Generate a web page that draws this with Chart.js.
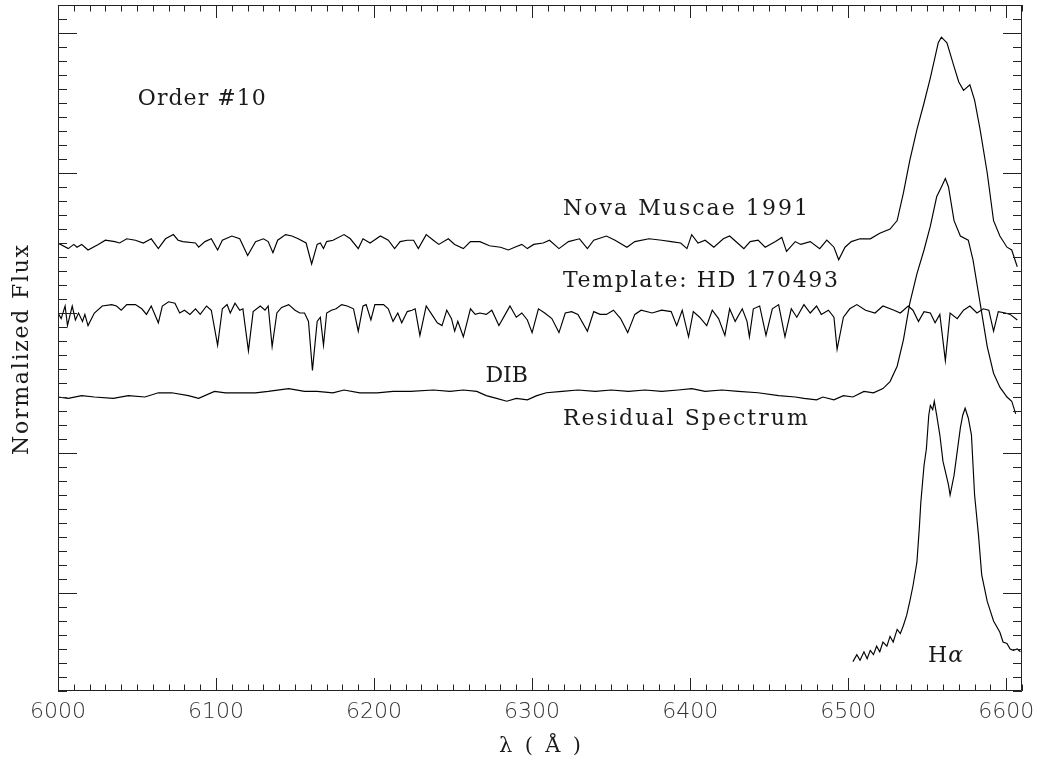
<!DOCTYPE html>
<html>
<head>
<meta charset="utf-8">
<script src="https://cdn.jsdelivr.net/npm/chart.js@4.4.1/dist/chart.umd.min.js"></script>
<style>
  html, body { margin: 0; padding: 0; background: #ffffff; }
  canvas { display: block; }
</style>
</head>
<body>
<canvas id="c" width="1044" height="767"></canvas>
<script>
// ---- Data: [wavelength (Å), normalized flux (offset)] ----
const novaSpectrum = [
  [6000,2.50],[6006.5,2.46],[6010,2.49],[6012,2.47],[6015,2.49],[6017,2.47],[6019,2.45],[6025.5,2.49],
  [6030,2.52],[6036,2.51],[6039,2.50],[6043.5,2.53],[6049,2.52],[6054,2.50],[6059,2.53],[6063.5,2.46],
  [6068,2.53],[6073,2.56],[6076,2.52],[6079,2.51],[6087,2.50],[6089,2.47],[6093,2.51],[6097,2.53],
  [6101,2.45],[6104,2.52],[6110,2.55],[6115,2.53],[6120,2.41],[6125,2.51],[6130,2.53],[6133,2.51],
  [6136,2.43],[6139,2.52],[6144,2.56],[6148,2.55],[6152,2.53],[6157,2.50],[6160.5,2.35],[6164,2.49],
  [6166,2.50],[6168,2.46],[6170,2.51],[6174,2.52],[6181,2.56],[6185,2.53],[6190,2.46],[6193,2.53],
  [6197.5,2.50],[6204,2.55],[6209,2.52],[6213,2.46],[6216.5,2.51],[6221,2.52],[6225,2.52],[6228,2.46],
  [6233,2.56],[6237.5,2.52],[6241,2.49],[6247,2.53],[6251,2.49],[6256.5,2.46],[6261,2.51],[6267,2.51],
  [6273,2.48],[6280,2.47],[6285,2.45],[6289,2.47],[6293.5,2.49],[6297,2.46],[6301,2.49],[6307,2.50],
  [6311,2.52],[6317,2.46],[6323,2.51],[6330,2.53],[6335,2.46],[6339,2.52],[6347,2.55],[6352.5,2.52],
  [6360,2.47],[6365,2.51],[6374,2.53],[6382,2.52],[6388,2.51],[6394,2.50],[6398,2.46],[6401,2.56],
  [6405,2.50],[6409.5,2.52],[6415,2.47],[6421,2.53],[6425,2.55],[6430,2.50],[6434,2.46],[6438,2.51],
  [6443,2.52],[6447.5,2.47],[6454,2.51],[6458,2.54],[6461,2.44],[6466.5,2.51],[6470,2.49],[6476,2.51],
  [6482,2.46],[6486.5,2.52],[6491,2.47],[6494,2.38],[6498,2.47],[6502,2.51],[6507.5,2.53],[6514,2.53],
  [6520,2.57],[6526.5,2.60],[6531,2.66],[6535,2.86],[6539,3.09],[6543.5,3.31],[6548,3.50],[6552,3.68],
  [6555,3.83],[6557,3.93],[6559,3.97],[6562.5,3.93],[6567,3.76],[6570,3.65],[6573,3.59],[6577,3.63],
  [6580,3.52],[6583.5,3.31],[6588,3.00],[6592,2.66],[6596,2.55],[6600.5,2.47],[6603.5,2.45],[6607,2.33]
];

const templateSpectrum = [
  [6000,2.00],[6002,1.96],[6004.5,2.05],[6006,1.91],[6009,2.05],[6011,1.95],[6013,2.00],[6015.5,1.94],
  [6017,1.99],[6019,1.91],[6023,2.00],[6028,2.05],[6034,2.06],[6037,2.05],[6040,2.02],[6043.5,2.06],
  [6049,2.06],[6053,2.03],[6056,1.99],[6059,2.05],[6063.5,1.93],[6066,2.05],[6070,2.08],[6074,2.07],
  [6077,2.00],[6080,2.02],[6083.5,1.99],[6087,2.03],[6090,1.99],[6094,2.05],[6097,2.02],[6101,1.77],
  [6104,2.03],[6107,2.06],[6109,2.00],[6112,2.07],[6115,2.02],[6117,2.03],[6120.5,1.73],[6123.5,2.01],
  [6128,2.05],[6131,2.02],[6133,2.05],[6135.5,1.76],[6138.5,2.00],[6141.5,2.04],[6146,2.06],[6150,2.02],
  [6153,2.00],[6156,2.00],[6158.5,1.94],[6161,1.59],[6164,1.94],[6166,1.97],[6168,1.77],[6170,2.00],
  [6173,2.02],[6176,2.03],[6179.5,2.06],[6183,2.05],[6187,2.03],[6190,1.87],[6193,2.05],[6195,2.06],
  [6198,1.95],[6200.5,2.06],[6206,2.06],[6209,2.03],[6212,1.94],[6215,2.00],[6217.5,1.93],[6221,2.01],
  [6224,2.02],[6226,2.03],[6229,1.84],[6233,2.05],[6236.5,1.99],[6240,1.93],[6243,1.91],[6246,2.02],
  [6249,1.96],[6251,1.87],[6253,1.94],[6256.5,1.83],[6261,2.03],[6264,1.99],[6267,2.00],[6271,1.99],
  [6274.5,2.02],[6279,1.91],[6283,1.99],[6286,2.05],[6290,1.97],[6293.5,2.00],[6297,1.95],[6300,1.86],
  [6304,2.03],[6308,2.00],[6312.5,1.96],[6317,1.86],[6321,2.00],[6325,2.01],[6329,1.99],[6335,1.87],
  [6339,2.01],[6343,1.99],[6347,1.99],[6351.5,2.02],[6356,1.96],[6360.5,1.86],[6365,1.99],[6369,2.02],
  [6376,2.00],[6382,2.02],[6388,2.01],[6391.5,1.91],[6395,2.02],[6399,1.83],[6402,2.01],[6406,1.97],
  [6410.5,1.91],[6414,2.02],[6418,1.96],[6422,1.84],[6425,2.03],[6428.5,1.94],[6433,2.03],[6436,1.94],
  [6437.5,1.83],[6440,2.03],[6444,2.05],[6448,1.84],[6452,2.03],[6456,2.06],[6460,1.83],[6464,2.03],
  [6467.5,1.97],[6472,2.06],[6476,2.00],[6480,2.05],[6483,1.99],[6487.5,2.02],[6491,1.97],[6493,1.74],
  [6497,1.97],[6501,2.03],[6505.5,2.06],[6511,2.02],[6517,2.00],[6522,2.05],[6529,2.02],[6533,2.00],
  [6538,2.05],[6541,2.02],[6544.5,1.94],[6548,2.01],[6552,2.00],[6555,1.93],[6558,1.99],[6561.5,1.66],
  [6564.5,2.00],[6569,1.96],[6573,2.02],[6577,2.05],[6581.5,2.00],[6585.5,2.03],[6589,2.02],[6592,1.87],
  [6595,2.01],[6599.5,2.00],[6602.5,1.99],[6607,1.95]
];

const residualSpectrum = [
  [6000,1.40],[6006.5,1.39],[6015,1.41],[6023,1.40],[6035,1.39],[6044.5,1.41],[6055,1.40],[6063.5,1.43],
  [6072,1.43],[6082.5,1.41],[6089,1.39],[6099,1.44],[6106,1.43],[6114,1.43],[6125,1.43],[6133,1.44],
  [6146,1.46],[6156,1.44],[6164,1.44],[6174,1.43],[6181,1.45],[6191,1.43],[6202,1.43],[6212,1.44],
  [6223,1.44],[6237.5,1.45],[6248,1.44],[6256.5,1.45],[6265,1.44],[6271,1.41],[6277.5,1.39],[6284,1.37],
  [6290,1.39],[6297,1.38],[6303,1.41],[6309,1.43],[6319,1.44],[6329,1.45],[6340,1.44],[6350,1.45],
  [6361,1.44],[6371.5,1.45],[6382,1.44],[6392.5,1.45],[6401,1.46],[6409.5,1.44],[6420,1.45],[6430.5,1.44],
  [6443,1.43],[6456,1.41],[6466.5,1.40],[6472,1.39],[6480,1.38],[6484,1.40],[6491,1.38],[6497,1.41],
  [6503,1.40],[6510,1.44],[6516,1.43],[6522,1.46],[6526.5,1.51],[6531,1.62],[6535,1.81],[6539,2.07],
  [6543.5,2.28],[6548,2.45],[6552,2.62],[6556,2.83],[6559,2.90],[6561.5,2.96],[6563.5,2.90],[6567,2.66],
  [6571,2.55],[6576,2.52],[6579,2.38],[6583.5,2.07],[6588,1.76],[6592,1.57],[6596,1.47],[6600.5,1.40],
  [6603.5,1.37],[6606,1.28]
];

const halphaProfile = [
  [6503,-0.49],[6505.5,-0.44],[6507.5,-0.48],[6510,-0.42],[6512,-0.47],[6514,-0.41],[6516,-0.44],[6518,-0.38],
  [6520,-0.42],[6522,-0.35],[6524.5,-0.38],[6526.5,-0.31],[6528.5,-0.35],[6531,-0.26],[6533,-0.29],[6535,-0.23],
  [6537,-0.16],[6539,-0.06],[6541,0.05],[6543.5,0.22],[6545,0.46],[6546,0.65],[6548,0.91],[6549.5,1.03],
  [6551,1.27],[6552,1.34],[6553.5,1.31],[6554.5,1.37],[6556,1.27],[6558,1.13],[6560,0.94],[6562.5,0.82],
  [6563.5,0.77],[6564.5,0.70],[6567,0.84],[6569,1.01],[6571,1.18],[6572.5,1.27],[6574,1.32],[6576,1.25],
  [6578,1.13],[6580,0.70],[6582.5,0.41],[6584.5,0.13],[6588,-0.06],[6592,-0.20],[6596,-0.28],[6598,-0.35],
  [6600.5,-0.36],[6602.5,-0.40],[6604.5,-0.41],[6607,-0.40],[6609,-0.42]
];

const xTickLabels = [6000, 6100, 6200, 6300, 6400, 6500, 6600];

const textLabels = [
  { text: 'Order #10', wl: 6050.5, flux: 3.53 },
  { text: 'Nova Muscae 1991', wl: 6319.5, flux: 2.74 },
  { text: 'Template: HD 170493', wl: 6319.5, flux: 2.23 },
  { text: 'DIB', wl: 6270.5, flux: 1.55 },
  { text: 'Residual Spectrum', wl: 6319.5, flux: 1.24 }
];
const halphaLabel = { h: 'H', greek: 'α', wl: 6550.5, flux: -0.45 };
const xTitle = 'λ ( Å )';
const yTitle = 'Normalized Flux';

// ---- Styling (rendered widths of the label strings in the reference) ----
const LABEL_FAMILY = '"DejaVu Serif"';
const labelWidths = {
  'Order #10': 128, 'Nova Muscae 1991': 245, 'Template: HD 170493': 275,
  'Residual Spectrum': 245, 'Normalized Flux': 210, 'λ ( Å )': 82
};

function drawFitted(ctx, text, x, y, size, align) {
  ctx.font = size + 'px ' + LABEL_FAMILY;
  ctx.letterSpacing = '0px';
  const w0 = ctx.measureText(text).width;
  const target = labelWidths[text];
  let ls = 0;
  if (target && text.length > 1) ls = (target - w0) / (text.length - 1);
  ctx.letterSpacing = ls.toFixed(2) + 'px';
  let sx = x;
  if (align === 'center') sx = x - (target || w0) / 2;
  ctx.textAlign = 'left';
  ctx.fillText(text, sx, y);
  ctx.letterSpacing = '0px';
}

const toXY = arr => arr.map(p => ({ x: p[0], y: p[1] }));
const lineStyle = { showLine: true, borderColor: '#000', borderWidth: 1.15, pointRadius: 0, tension: 0, fill: false };

const framePlugin = {
  id: 'frameTicks',
  afterDraw(chart) {
    const { ctx, chartArea: { left, right, top, bottom }, scales: { x, y } } = chart;
    ctx.save();
    ctx.strokeStyle = '#222';
    ctx.lineWidth = 1;
    ctx.beginPath();
    ctx.rect(left + 0.5, top + 0.5, right - left - 1, bottom - top - 1);
    ctx.stroke();
    ctx.beginPath();
    for (let v = 6000; v <= 6610; v += 10) {
      const px = Math.round(x.getPixelForValue(v)) + 0.5;
      const len = v % 100 === 0 ? 13 : 6.5;
      ctx.moveTo(px, bottom); ctx.lineTo(px, bottom - len);
      ctx.moveTo(px, top); ctx.lineTo(px, top + len);
    }
    for (let i = -7; i <= 42; i++) {
      const py = Math.round(y.getPixelForValue(i / 10)) + 0.5;
      const len = i % 10 === 0 ? 19 : 9;
      ctx.moveTo(left, py); ctx.lineTo(left + len, py);
      ctx.moveTo(right, py); ctx.lineTo(right - len, py);
    }
    ctx.stroke();

    ctx.fillStyle = '#1a1a1a';
    ctx.textBaseline = 'middle';
    textLabels.forEach(l => {
      drawFitted(ctx, l.text, x.getPixelForValue(l.wl), y.getPixelForValue(l.flux), 22, 'left');
    });
    const hx = x.getPixelForValue(halphaLabel.wl);
    const hy = y.getPixelForValue(halphaLabel.flux);
    ctx.font = '22px ' + LABEL_FAMILY;
    ctx.textAlign = 'left';
    ctx.fillText(halphaLabel.h, hx, hy);
    const hw = ctx.measureText(halphaLabel.h).width;
    ctx.font = 'italic 22px ' + LABEL_FAMILY;
    ctx.fillText(halphaLabel.greek, hx + hw + 1, hy);

    // axis titles
    drawFitted(ctx, xTitle, (left + right) / 2, 747, 21, 'center');
    ctx.save();
    ctx.translate(22, (top + bottom) / 2 + 2);
    ctx.rotate(-Math.PI / 2);
    drawFitted(ctx, yTitle, 0, 0, 22, 'center');
    ctx.restore();
    ctx.restore();
  }
};

new Chart(document.getElementById('c'), {
  type: 'scatter',
  data: {
    datasets: [
      { label: 'Nova Muscae 1991', data: toXY(novaSpectrum), ...lineStyle },
      { label: 'Template: HD 170493', data: toXY(templateSpectrum), ...lineStyle },
      { label: 'Residual Spectrum', data: toXY(residualSpectrum), ...lineStyle },
      { label: 'Hα', data: toXY(halphaProfile), ...lineStyle }
    ]
  },
  options: {
    responsive: false,
    animation: false,
    layout: { padding: { top: 5, right: 22, left: 0, bottom: 0 } },
    plugins: { legend: { display: false }, tooltip: { enabled: false } },
    scales: {
      x: {
        type: 'linear',
        min: 6000,
        max: 6610,
        grid: { display: false, drawTicks: false },
        border: { display: false },
        afterBuildTicks: s => { s.ticks = xTickLabels.map(v => ({ value: v })); },
        afterFit: s => { s.height = 76; },
        ticks: {
          autoSkip: false,
          maxRotation: 0,
          padding: 8,
          color: '#333',
          font: { family: '"DejaVu Sans"', size: 22, weight: '300' },
          callback: v => String(v)
        },
        title: { display: false }
      },
      y: {
        type: 'linear',
        min: -0.7,
        max: 4.2,
        grid: { display: false, drawTicks: false },
        border: { display: false },
        ticks: { display: false },
        afterFit: s => { s.width = 58; },
        title: { display: false }
      }
    }
  },
  plugins: [framePlugin]
});
</script>
</body>
</html>
